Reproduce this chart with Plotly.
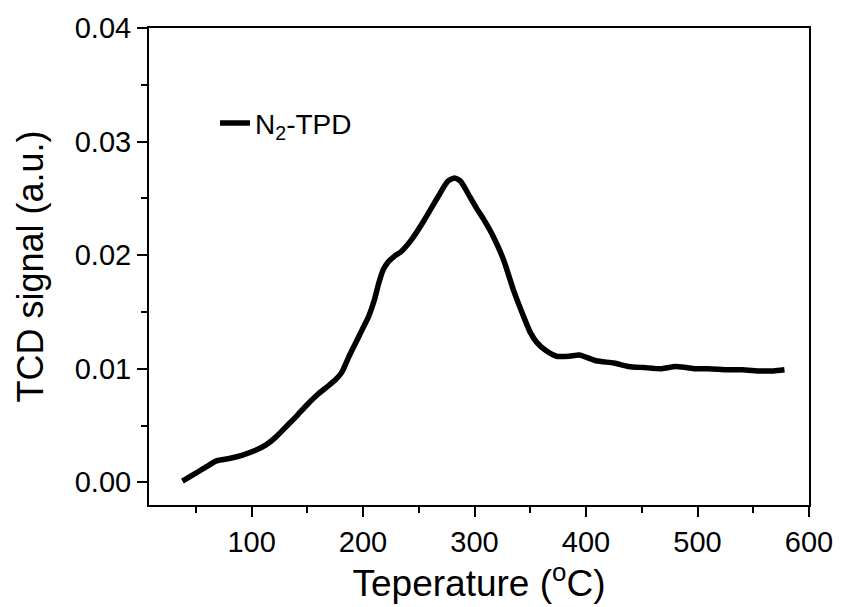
import plotly.graph_objects as go

temperature = [38, 50, 60, 69, 80, 92, 103, 113, 122, 131, 141, 151.5, 160, 169, 176, 181, 187, 193, 199, 205, 210, 214, 218, 222.5, 228, 234, 243, 255, 267, 276, 282, 287.5, 296, 302, 308.5, 317, 326, 335, 344, 350, 356, 364, 373.5, 385, 394, 409, 425, 438, 452, 468, 480, 490, 498, 510, 527, 540, 557, 568, 578]
signal = [0.0001, 0.0008, 0.0014, 0.0019, 0.0021, 0.0024, 0.0028, 0.0033, 0.0040, 0.0049, 0.0059, 0.0070, 0.0078, 0.0085, 0.0091, 0.0097, 0.0110, 0.0122, 0.0134, 0.0146, 0.0160, 0.0175, 0.0187, 0.0194, 0.0199, 0.0203, 0.0213, 0.0231, 0.0251, 0.0265, 0.0268, 0.0265, 0.0251, 0.0241, 0.0231, 0.0216, 0.0196, 0.0169, 0.0146, 0.0132, 0.0123, 0.0116, 0.0111, 0.0111, 0.0112, 0.0107, 0.0105, 0.0102, 0.0101, 0.0100, 0.0102, 0.0101, 0.0100, 0.0100, 0.0099, 0.0099, 0.0098, 0.0098, 0.0099]

x_ticks = [100, 200, 300, 400, 500, 600]
y_ticks = [0.00, 0.01, 0.02, 0.03, 0.04]
y_labels = ["0.00", "0.01", "0.02", "0.03", "0.04"]

font_family = "Liberation Sans, Arial, sans-serif"

fig = go.Figure()
fig.add_trace(go.Scatter(
    x=temperature, y=signal, mode="lines", name="N<sub>2</sub>-TPD",
    line=dict(color="black", width=5.5, shape="spline", smoothing=0.6),
))

axis_common = dict(
    showline=True, linecolor="black", linewidth=2, mirror=True,
    ticks="outside", ticklen=10, tickwidth=2, tickcolor="black",
    showgrid=False, zeroline=False,
    tickfont=dict(family=font_family, size=29, color="black"),
)

fig.update_xaxes(
    range=[8, 600], tickvals=x_ticks,
    minor=dict(ticks="outside", ticklen=6, tickwidth=2, tickcolor="black", dtick=50, tick0=0),
    title=dict(text="Teperature (<sup>o</sup>C)", font=dict(family=font_family, size=37, color="black"), standoff=8),
    **axis_common,
)
fig.update_yaxes(
    range=[-0.002, 0.04], tickvals=y_ticks, ticktext=y_labels,
    minor=dict(ticks="outside", ticklen=6, tickwidth=2, tickcolor="black", dtick=0.005, tick0=0),
    title=dict(text="TCD signal (a.u.)", font=dict(family=font_family, size=36, color="black"), standoff=20),
    **axis_common,
)

fig.update_layout(
    width=845, height=607,
    margin=dict(l=149, r=28, t=28, b=102),
    paper_bgcolor="white", plot_bgcolor="white",
    showlegend=True,
    legend=dict(x=0.1, y=0.80, xanchor="left", yanchor="middle",
                bgcolor="rgba(0,0,0,0)",
                font=dict(family=font_family, size=28, color="black")),
)

fig.write_html("out.html")
